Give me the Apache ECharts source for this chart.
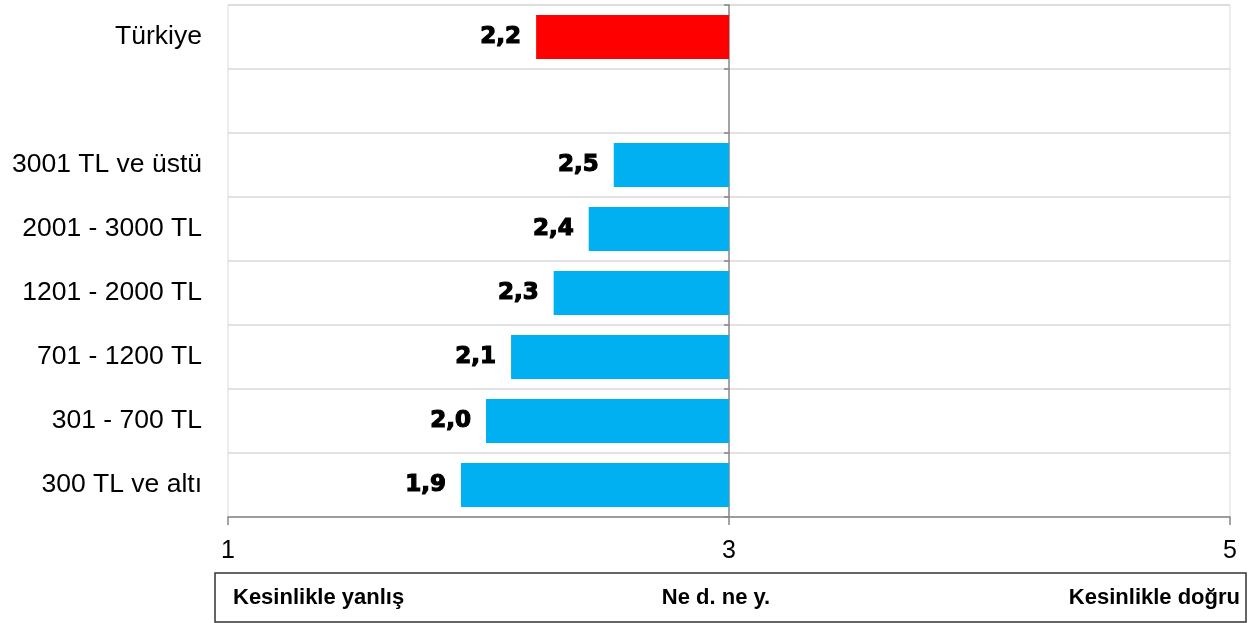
<!DOCTYPE html>
<html>
<head>
<meta charset="utf-8">
<script src="https://cdn.jsdelivr.net/npm/echarts@6/dist/echarts.min.js"></script>
<style>html,body{margin:0;padding:0;background:#fff}#c{width:1258px;height:623px}</style>
</head>
<body>
<div id="c"></div>
<script>
const categories = ['Türkiye', '', '3001 TL ve üstü', '2001 - 3000 TL', '1201 - 2000 TL', '701 - 1200 TL', '301 - 700 TL', '300 TL ve altı'];
const values = [2.23, null, 2.54, 2.44, 2.30, 2.13, 2.03, 1.93];
const colors = ['#FF0000', null, '#00B0F0', '#00B0F0', '#00B0F0', '#00B0F0', '#00B0F0', '#00B0F0'];
const baseline = 3;
const tickLabels = [1, 3, 5];
const scaleLabels = ['Kesinlikle yanlış', 'Ne d. ne y.', 'Kesinlikle doğru'];

const chart = echarts.init(document.getElementById('c'));
const boxFont = '"Liberation Sans", Arial, sans-serif';
chart.setOption({
  animation: false,
  grid: [
    { left: 228, right: 28, top: 5, bottom: 106, show: true, borderColor: '#D9D9D9', borderWidth: 1 },
    { left: 729, width: 1, top: 5, bottom: 106 }
  ],
  xAxis: [
    {
      gridIndex: 0, type: 'value', min: 1, max: 5, interval: 1,
      axisLine: { show: true, lineStyle: { color: '#868686', width: 1.5 } },
      axisTick: { show: true, length: 8, customValues: tickLabels, lineStyle: { color: '#868686', width: 1.5 } },
      axisLabel: { customValues: tickLabels, margin: 22, fontSize: 25, color: '#000', fontFamily: '"Liberation Sans", Arial, sans-serif' },
      splitLine: { show: false }
    },
    { gridIndex: 1, type: 'value', show: false, min: 0, max: 1 }
  ],
  yAxis: [
    {
      gridIndex: 0, type: 'category', data: categories, inverse: true,
      axisLine: { show: false }, axisTick: { show: false },
      axisLabel: { margin: 26, fontSize: 26.5, color: '#000', fontFamily: '"Liberation Sans", Arial, sans-serif' },
      splitLine: { show: true, lineStyle: { color: '#D9D9D9', width: 1.5 } }
    },
    {
      gridIndex: 1, type: 'category', data: categories, inverse: true, position: 'left',
      axisLine: { show: true, lineStyle: { color: '#868686', width: 1.5 } },
      axisTick: { show: true, length: 5, inside: false, lineStyle: { color: '#868686', width: 1.5 } },
      axisLabel: { show: false }, splitLine: { show: false }
    }
  ],
  series: [
    {
      type: 'bar', stack: 's', xAxisIndex: 0, yAxisIndex: 0, barWidth: '69%',
      itemStyle: { color: 'rgba(0,0,0,0)' },
      data: values.map(v => v == null ? null : v),
      silent: true
    },
    {
      type: 'bar', stack: 's', xAxisIndex: 0, yAxisIndex: 0, barWidth: '69%',
      data: values.map((v, i) => v == null ? null : { value: baseline - v, itemStyle: { color: colors[i] } }),
      label: {
        show: true, position: 'left', distance: 15,
        fontFamily: '"DejaVu Sans", sans-serif', fontWeight: 'bold', fontSize: 23, color: '#000',
        textBorderColor: '#000', textBorderWidth: 1.2,
        formatter: p => values[p.dataIndex].toFixed(1).replace('.', ',')
      }
    }
  ],
  graphic: [
    { type: 'rect', shape: { x: 215, y: 573, width: 1031, height: 49 }, style: { fill: '#fff', stroke: '#333', lineWidth: 1.5 } },
    { type: 'text', x: 233, y: 598, style: { text: scaleLabels[0], font: 'bold 22px ' + boxFont, fill: '#000', textAlign: 'left', textVerticalAlign: 'middle' } },
    { type: 'text', x: 716, y: 598, style: { text: scaleLabels[1], font: 'bold 22px ' + boxFont, fill: '#000', textAlign: 'center', textVerticalAlign: 'middle' } },
    { type: 'text', x: 1240, y: 598, style: { text: scaleLabels[2], font: 'bold 22px ' + boxFont, fill: '#000', textAlign: 'right', textVerticalAlign: 'middle' } }
  ]
});
</script>
</body>
</html>
